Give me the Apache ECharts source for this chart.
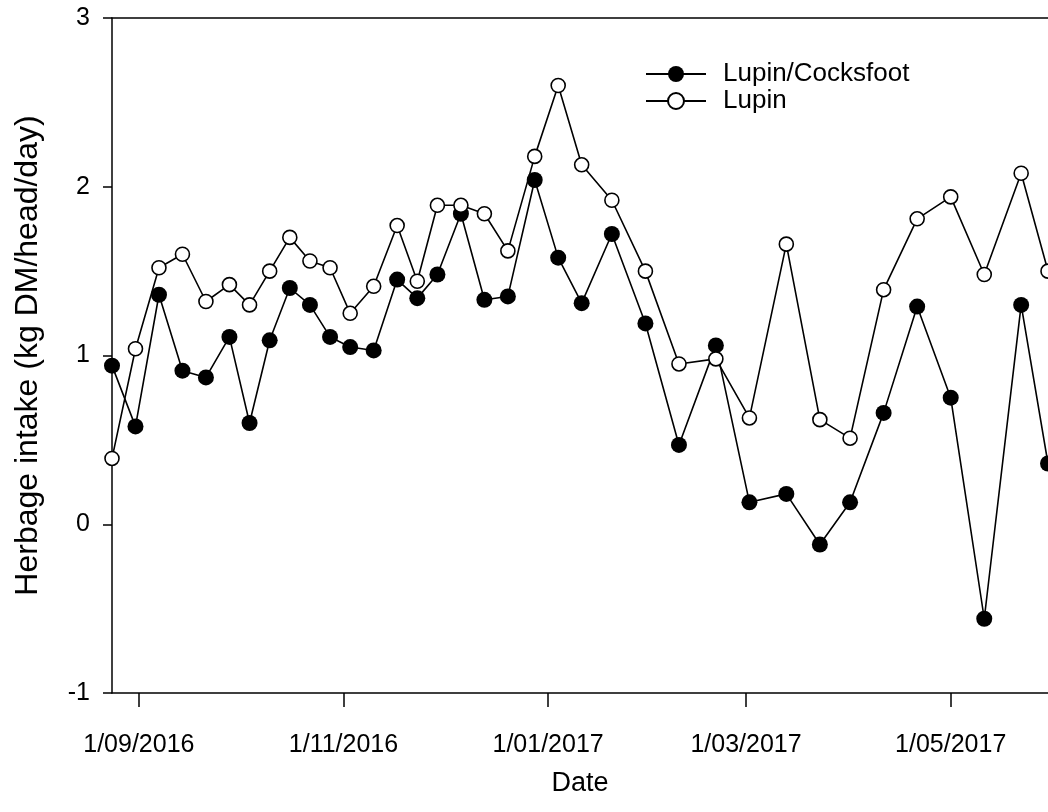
<!DOCTYPE html>
<html>
<head>
<meta charset="utf-8">
<title>Herbage intake</title>
<script src="https://cdn.jsdelivr.net/npm/echarts@6/dist/echarts.min.js"></script>
<style>
  html, body { margin: 0; padding: 0; background: #fff; }
  #chart { width: 1048px; height: 812px; }
</style>
</head>
<body>
<div id="chart"></div>
<script>
// Sampling dates (weekly-ish grazing measurements)
const dates = [
  '2016-08-24', '2016-08-31', '2016-09-07', '2016-09-14', '2016-09-21', '2016-09-28',
  '2016-10-04', '2016-10-10', '2016-10-16', '2016-10-22', '2016-10-28', '2016-11-03',
  '2016-11-10', '2016-11-17', '2016-11-23', '2016-11-29', '2016-12-06', '2016-12-13',
  '2016-12-20', '2016-12-28', '2017-01-04', '2017-01-11', '2017-01-20', '2017-01-30',
  '2017-02-09', '2017-02-20', '2017-03-02', '2017-03-13', '2017-03-23', '2017-04-01',
  '2017-04-11', '2017-04-21', '2017-05-01', '2017-05-11', '2017-05-22', '2017-05-30'
];

// Herbage intake, kg DM/head/day
const lupinCocksfoot = [
  0.94, 0.58, 1.36, 0.91, 0.87, 1.11,
  0.60, 1.09, 1.40, 1.30, 1.11, 1.05,
  1.03, 1.45, 1.34, 1.48, 1.84, 1.33,
  1.35, 2.04, 1.58, 1.31, 1.72, 1.19,
  0.47, 1.06, 0.13, 0.18, -0.12, 0.13,
  0.66, 1.29, 0.75, -0.56, 1.30, 0.36
];
const lupin = [
  0.39, 1.04, 1.52, 1.60, 1.32, 1.42,
  1.30, 1.50, 1.70, 1.56, 1.52, 1.25,
  1.41, 1.77, 1.44, 1.89, 1.89, 1.84,
  1.62, 2.18, 2.60, 2.13, 1.92, 1.50,
  0.95, 0.98, 0.63, 1.66, 0.62, 0.51,
  1.39, 1.81, 1.94, 1.48, 2.08, 1.50
];

// Date axis ticks and range
const tickDates = ['2016-09-01', '2016-11-01', '2017-01-01', '2017-03-01', '2017-05-01'];
const axisStart = '2016-08-24';
const axisEnd = '2017-05-30';

// Dates are placed on a numeric axis measured in days (UTC-based, no DST drift)
function toDay(s) {
  const p = s.split('-').map(Number);
  return Date.UTC(p[0], p[1] - 1, p[2]) / 86400000;
}
function fmtDay(v) {
  const d = new Date(Math.round(v) * 86400000);
  const mm = String(d.getUTCMonth() + 1).padStart(2, '0');
  return d.getUTCDate() + '/' + mm + '/' + d.getUTCFullYear();
}

const FONT = '"Liberation Sans", Arial, sans-serif';
const tickDays = tickDates.map(toDay);
const xMin = toDay(axisStart);
const xMax = toDay(axisEnd);

const chart = echarts.init(document.getElementById('chart'), null, { renderer: 'canvas' });

chart.setOption({
  animation: false,
  backgroundColor: '#fff',
  textStyle: { fontFamily: FONT, color: '#000' },
  grid: { left: 112, top: 18, right: 0, bottom: 119, containLabel: false },
  legend: {
    orient: 'vertical',
    left: 645,
    top: 61,
    padding: 0,
    itemWidth: 60,
    itemHeight: 20,
    itemGap: 1,
    data: ['Lupin/Cocksfoot', 'Lupin'],
    textStyle: { fontFamily: FONT, fontSize: 26, lineHeight: 22, color: '#000', padding: [0, 0, 0, 12] }
  },
  xAxis: [
    {
      type: 'value',
      min: xMin,
      max: xMax,
      name: 'Date',
      nameLocation: 'middle',
      nameGap: 77,
      nameTextStyle: { fontFamily: FONT, fontSize: 27, color: '#000' },
      axisLine: { show: true, onZero: false, lineStyle: { color: '#000', width: 1.5 } },
      axisTick: { show: true, inside: false, length: 14, customValues: tickDays, lineStyle: { color: '#000', width: 1.5 } },
      axisLabel: {
        show: true,
        customValues: tickDays,
        margin: 40,
        fontFamily: FONT,
        fontSize: 25,
        color: '#000',
        formatter: function (v) { return fmtDay(v); }
      },
      splitLine: { show: false }
    },
    {
      type: 'value',
      position: 'top',
      min: xMin,
      max: xMax,
      axisLine: { show: true, onZero: false, lineStyle: { color: '#000', width: 1.5 } },
      axisTick: { show: false },
      axisLabel: { show: false },
      splitLine: { show: false }
    }
  ],
  yAxis: {
    type: 'value',
    min: -1,
    max: 3,
    interval: 1,
    name: 'Herbage intake (kg DM/head/day)',
    nameLocation: 'middle',
    nameGap: 68,
    nameTextStyle: { fontFamily: FONT, fontSize: 32, color: '#000' },
    axisLine: { show: true, onZero: false, lineStyle: { color: '#000', width: 1.5 } },
    axisTick: { show: true, inside: false, length: 9, lineStyle: { color: '#000', width: 1.5 } },
    axisLabel: { margin: 22, fontFamily: FONT, fontSize: 25, color: '#000' },
    splitLine: { show: false }
  },
  series: [
    {
      name: 'Lupin/Cocksfoot',
      type: 'line',
      data: dates.map((d, i) => [toDay(d), lupinCocksfoot[i]]),
      symbol: 'circle',
      symbolSize: 16,
      showAllSymbol: true,
      clip: true,
      lineStyle: { color: '#000', width: 1.6 },
      itemStyle: { color: '#000', borderColor: '#000', borderWidth: 0 },
      emphasis: { disabled: true }
    },
    {
      name: 'Lupin',
      type: 'line',
      data: dates.map((d, i) => [toDay(d), lupin[i]]),
      symbol: 'circle',
      symbolSize: 14,
      showAllSymbol: true,
      clip: true,
      lineStyle: { color: '#000', width: 1.6 },
      itemStyle: { color: '#fff', borderColor: '#000', borderWidth: 1.6 },
      emphasis: { disabled: true }
    }
  ]
});
</script>
</body>
</html>
